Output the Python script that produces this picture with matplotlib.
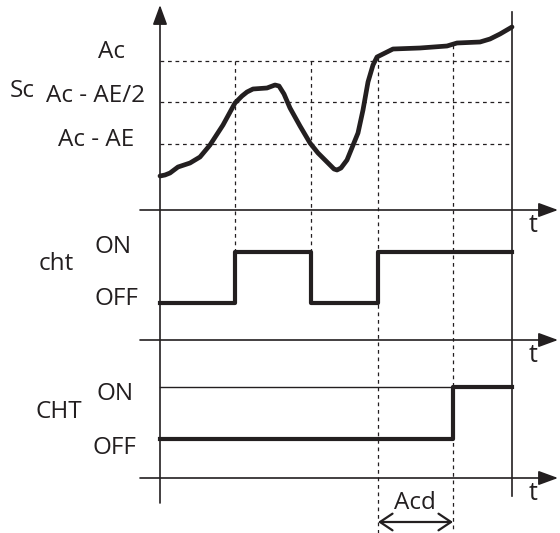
import matplotlib.pyplot as plt

# timing diagram, coordinates in drawing units (x = time, y = level, y grows downward)
curve_t = [160, 165, 170, 178, 190, 200, 210, 223, 235, 242, 247, 253, 267, 275, 279, 284, 290, 300,
           310, 318, 330, 334, 337, 341, 347, 358, 363, 368, 373, 377, 385, 393, 420, 447, 457, 480,
           490, 500, 512]
curve_y = [176, 175, 173, 167, 163, 157, 145, 125, 103, 96, 92, 89, 88, 85, 86, 94, 108, 126,
           143, 153, 165, 169, 170, 168, 160, 133, 110, 82, 65, 57, 53, 49, 48, 46, 43, 42,
           39, 34, 27]

levels = {"Ac": 61, "Ac - AE/2": 102, "Ac - AE": 144}

cht_t = [160, 235, 235, 311, 311, 378, 378, 512]
cht_y = [303, 303, 252, 252, 303, 303, 252, 252]

CHT_t = [160, 453, 453, 512]
CHT_y = [439, 439, 387, 387]

t0, t_end = 160, 512
axis_rows = [210, 340, 478]

plt.rcParams['font.family'] = ['Open Sans', 'DejaVu Sans']

fig = plt.figure(figsize=(5.6, 5.33), dpi=100)
ax = fig.add_axes([0, 0, 1, 1])
ax.set_xlim(0, 560)
ax.set_ylim(533, 0)
ax.axis('off')

k = '#231f20'
arrow = dict(arrowstyle='-|>,head_length=0.6,head_width=0.22', lw=1.2, color=k,
             mutation_scale=20, shrinkA=0, shrinkB=0)

# vertical axis
ax.annotate('', xy=(t0, 5), xytext=(t0, 503), arrowprops=arrow)
# time axes
for y in axis_rows:
    ax.annotate('', xy=(558, y), xytext=(140, y), arrowprops=arrow)
    ax.text(533, y + 15, 't', fontsize=18, ha='center', va='center', color=k)
ax.plot([t_end, t_end], [12, 496], color=k, lw=1.2)

# threshold lines
dash = dict(color=k, lw=0.9, ls=(0, (3, 3)))
for y in levels.values():
    ax.plot([t0, t_end], [y, y], **dash)
ax.plot([235, 235], [61, 252], **dash)
ax.plot([311, 311], [61, 252], **dash)
ax.plot([378, 378], [57, 533], **dash)
ax.plot([453, 453], [45, 533], **dash)

# temperature curve
ax.plot(curve_t, curve_y, color=k, lw=3.4, solid_capstyle='round', solid_joinstyle='round')

# outputs
ax.plot(cht_t, cht_y, color=k, lw=3.0)
ax.plot([t0, 453], [387, 387], color=k, lw=1.0)
ax.plot(CHT_t, CHT_y, color=k, lw=3.0)

# labels
fs = 17.5
ax.text(112, 52, 'Ac', fontsize=fs, ha='center', va='center', color=k)
ax.text(96, 96, 'Ac - AE/2', fontsize=fs, ha='center', va='center', color=k)
ax.text(96, 140, 'Ac - AE', fontsize=fs, ha='center', va='center', color=k)
ax.text(22, 91, 'Sc', fontsize=fs, ha='center', va='center', color=k)

ax.text(56, 264, 'cht', fontsize=fs, ha='center', va='center', color=k)
ax.text(113, 247, 'ON', fontsize=fs, ha='center', va='center', color=k)
ax.text(116, 299, 'OFF', fontsize=fs, ha='center', va='center', color=k)
ax.text(59, 412, 'CHT', fontsize=fs, ha='center', va='center', color=k)
ax.text(115, 394, 'ON', fontsize=fs, ha='center', va='center', color=k)
ax.text(114, 448, 'OFF', fontsize=fs, ha='center', va='center', color=k)

# delay Acd
ax.annotate('', xy=(378, 522), xytext=(453, 522),
            arrowprops=dict(arrowstyle='<->,head_length=0.45,head_width=0.3', lw=1.6, color=k,
                            mutation_scale=20, shrinkA=0, shrinkB=0))
ax.text(415, 503, 'Acd', fontsize=fs, ha='center', va='center', color=k)

fig.savefig('out.png', dpi=100)
